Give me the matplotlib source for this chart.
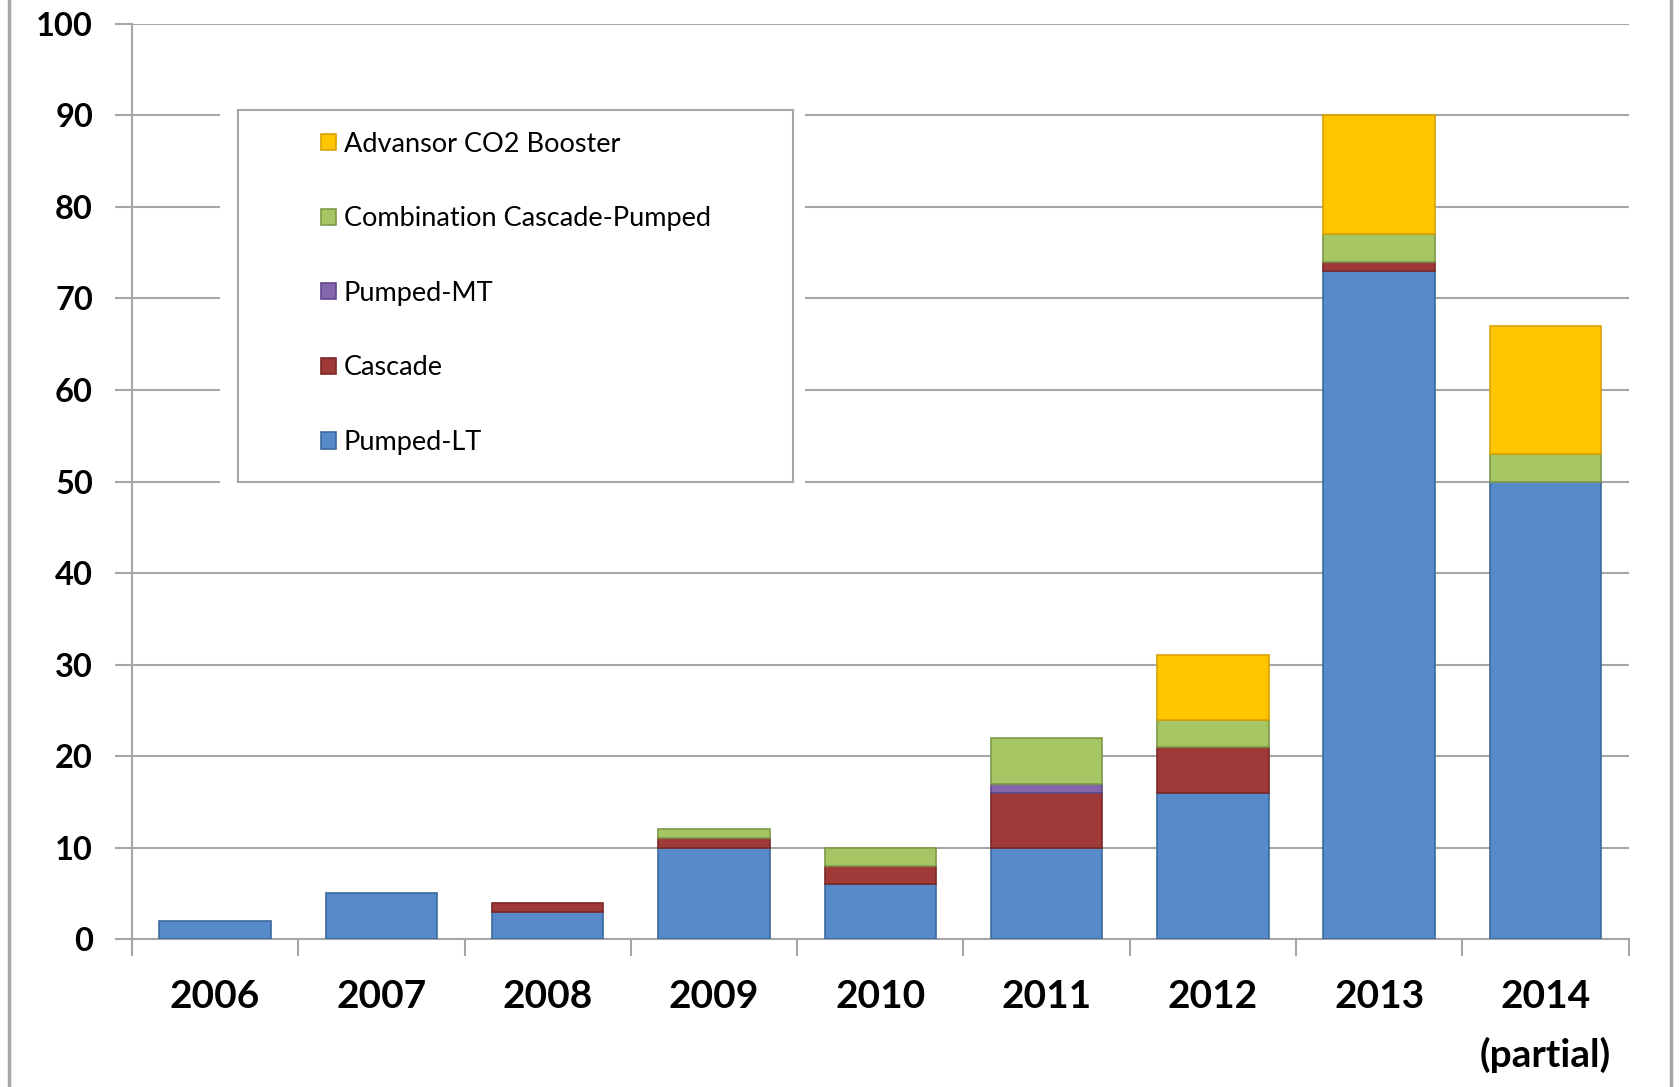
import matplotlib
matplotlib.use("Agg")
import matplotlib.pyplot as plt
import numpy as np
from matplotlib.patches import Rectangle

years = ['2006', '2007', '2008', '2009', '2010', '2011', '2012', '2013', '2014\n(partial)']
pumped_lt = [2, 5, 3, 10, 6, 10, 16, 73, 50]
cascade = [0, 0, 1, 1, 2, 6, 5, 1, 0]
pumped_mt = [0, 0, 0, 0, 0, 1, 0, 0, 0]
combination = [0, 0, 0, 1, 2, 5, 3, 3, 3]
booster = [0, 0, 0, 0, 0, 0, 7, 13, 14]

series = [
    ('Pumped-LT', pumped_lt, '#568ACB', '#3C6A9E'),
    ('Cascade', cascade, '#A03A38', '#7A2826'),
    ('Pumped-MT', pumped_mt, '#8466AC', '#62488A'),
    ('Combination Cascade-Pumped', combination, '#A6C563', '#7E9A48'),
    ('Advansor CO2 Booster', booster, '#FFC600', '#D9A200'),
]

fig = plt.figure(figsize=(16.79, 10.87), dpi=100)
ax = fig.add_axes([0.0786, 0.136, 0.8914, 0.842])

x = np.arange(len(years))
bottom = np.zeros(len(years))
handles = []
for name, vals, col, edge in series:
    vals = np.array(vals, dtype=float)
    m = vals > 0  # skip empty segments so no stray edge lines
    h = ax.bar(x[m], vals[m], 0.67, bottom=bottom[m], color=col, edgecolor=edge,
               linewidth=1.2, label=name, zorder=3)
    handles.append(h)
    bottom += vals

ax.set_xlim(-0.5, len(years) - 0.5)
ax.set_ylim(0, 100)
ax.set_yticks(range(0, 101, 10))
ax.yaxis.grid(True, color='#A6A6A6', linewidth=1.5, zorder=0)
ax.set_axisbelow(True)

for s in ['top', 'right']:
    ax.spines[s].set_visible(False)
for s in ['left', 'bottom']:
    ax.spines[s].set_color('#A6A6A6')
    ax.spines[s].set_linewidth(1.5)

ax.set_xticks(x)
ax.set_xticklabels(years, fontfamily='Lato', fontweight='bold', fontsize=28,
                   linespacing=1.75, va='top')
ax.set_xticks(np.arange(-0.5, len(years), 1), minor=True)
ax.tick_params(axis='x', which='major', length=0, pad=29)
ax.tick_params(axis='x', which='minor', length=12, width=1.5, color='#A6A6A6')
ax.tick_params(axis='y', length=12, width=1.5, color='#A6A6A6', pad=16)
for lab in ax.get_yticklabels():
    lab.set_fontfamily('Lato')
    lab.set_fontweight('bold')
    lab.set_fontsize(23.5)

# legend box (white area breaks the gridlines)
ax.add_patch(Rectangle((0.059, 0.492), 0.391, 0.421, transform=ax.transAxes,
                       facecolor='white', edgecolor='none', zorder=4))
ax.add_patch(Rectangle((0.0708, 0.499), 0.3707, 0.4067, transform=ax.transAxes,
                       facecolor='white', edgecolor='#A6A6A6', linewidth=1.5, zorder=5))
leg = ax.legend(handles[::-1], [s[0] for s in series][::-1], loc='upper left',
                bbox_to_anchor=(0.117, 0.897), frameon=False,
                prop={'family': 'Lato', 'size': 19.5},
                handlelength=0.55, handleheight=0.55, handletextpad=0.3,
                labelspacing=1.83, borderpad=0)
leg.set_zorder(6)

# outer border lines of the picture
fig.add_artist(plt.Line2D([0.0054, 0.0054], [0.0, 1.0], color='#A6A6A6', linewidth=2.5))
fig.add_artist(plt.Line2D([0.9952, 0.9952], [0.0, 1.0], color='#A6A6A6', linewidth=2.5))

fig.savefig('out.png', dpi=100)
